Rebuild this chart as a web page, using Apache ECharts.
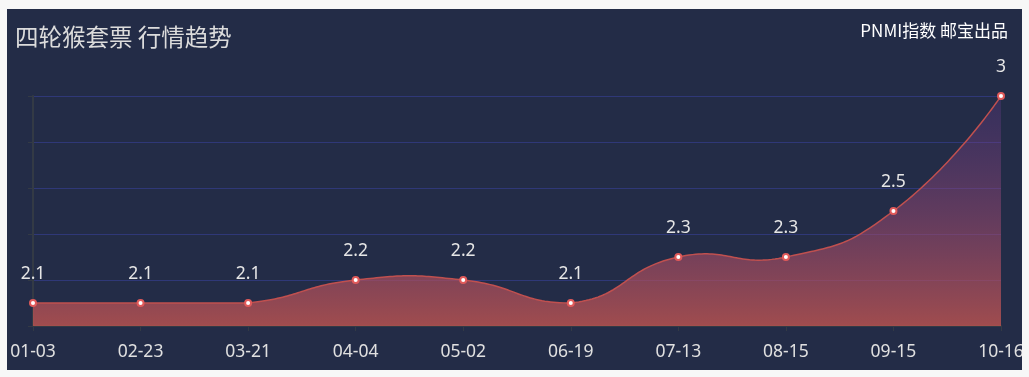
<!DOCTYPE html>
<html>
<head>
<meta charset="utf-8">
<script src="https://cdn.jsdelivr.net/npm/echarts@6/dist/echarts.min.js"></script>
<style>
html,body{margin:0;padding:0;background:#f7f7f7;}
#chart{position:absolute;left:7px;top:9px;width:1015px;height:361px;background:#232c47;overflow:hidden;}
</style>
</head>
<body>
<div id="chart"></div>
<script>
const titleText = '四轮猴套票 行情趋势';
const creditText = 'PNMI指数 邮宝出品';
const categories = ['01-03','02-23','03-21','04-04','05-02','06-19','07-13','08-15','09-15','10-16'];
const values = [2.1, 2.1, 2.1, 2.2, 2.2, 2.1, 2.3, 2.3, 2.5, 3];
const yMin = 2, yMax = 3, yStep = 0.2;

// classic (overshooting) bezier smoothing, applied to pixel points from the axes
function smoothCurve(pts, smooth, steps) {
  let minX = Infinity, minY = Infinity, maxX = -Infinity, maxY = -Infinity;
  pts.forEach(p => { minX = Math.min(minX, p[0]); maxX = Math.max(maxX, p[0]); minY = Math.min(minY, p[1]); maxY = Math.max(maxY, p[1]); });
  const clamp = c => [Math.min(Math.max(c[0], minX), maxX), Math.min(Math.max(c[1], minY), maxY)];
  const out = [pts[0].slice()];
  let cp0 = pts[0].slice();
  for (let k = 1; k < pts.length; k++) {
    const p = pts[k], prev = pts[k - 1], next = pts[k + 1];
    let cp1, ratio = 0.5, v = [0, 0];
    if (!next) { cp1 = p.slice(); }
    else {
      v = [next[0] - prev[0], next[1] - prev[1]];
      const lp = Math.hypot(p[0] - prev[0], p[1] - prev[1]);
      const ln = Math.hypot(p[0] - next[0], p[1] - next[1]);
      ratio = ln / (ln + lp);
      cp1 = [p[0] - v[0] * smooth * (1 - ratio), p[1] - v[1] * smooth * (1 - ratio)];
    }
    const a = clamp(cp0), b = clamp(cp1), s = prev;
    for (let t = 1; t <= steps; t++) {
      const u = t / steps, m = 1 - u;
      out.push([
        m*m*m*s[0] + 3*m*m*u*a[0] + 3*m*u*u*b[0] + u*u*u*p[0],
        m*m*m*s[1] + 3*m*m*u*a[1] + 3*m*u*u*b[1] + u*u*u*p[1]
      ]);
    }
    cp0 = [p[0] + v[0] * smooth * ratio, p[1] + v[1] * smooth * ratio];
  }
  return out;
}

const chart = echarts.init(document.getElementById('chart'));
chart.setOption({
  backgroundColor: '#232c47',
  animation: false,
  title: [
    {text: titleText, left: 3, top: 11, textStyle: {color: '#dcdcdc', fontSize: 23.5, fontWeight: 'normal', fontFamily: '"Noto Sans CJK SC", sans-serif'}},
    {text: creditText, right: 9, top: 8, textStyle: {color: '#ffffff', fontSize: 17, fontWeight: 'normal', fontFamily: '"Noto Sans CJK SC", sans-serif'}}
  ],
  grid: {left: 26, right: 21, top: 87, bottom: 44, outerBoundsMode: 'none', containLabel: false},
  xAxis: {
    type: 'category',
    data: categories,
    boundaryGap: false,
    axisLine: {lineStyle: {color: '#333a45', width: 2}},
    axisTick: {show: true, alignWithLabel: true, lineStyle: {color: '#333a45'}},
    axisLabel: {color: '#e0e0e0', fontSize: 17.5, margin: 17, fontFamily: '"Noto Sans", sans-serif'},
    splitLine: {show: false}
  },
  yAxis: {
    type: 'value',
    min: yMin, max: yMax, interval: yStep,
    axisLine: {show: true, lineStyle: {color: '#333a45', width: 2}},
    axisTick: {show: true, lineStyle: {color: '#333a45'}},
    axisLabel: {show: false},
    splitLine: {lineStyle: {color: '#2f3878', width: 1}}
  },
  series: [
    {
      type: 'custom',
      data: values,
      z: 2,
      silent: true,
      renderItem: function (params, api) {
        if (params.dataIndex !== 0) return null;
        const pts = values.map((v, i) => api.coord([i, v]));
        const curve = smoothCurve(pts, 0.5, 40);
        const baseY = api.coord([0, yMin])[1];
        const area = curve.concat([[curve[curve.length - 1][0], baseY], [curve[0][0], baseY]]);
        return {
          type: 'group',
          children: [
            {type: 'polygon', shape: {points: area}, style: {
              fill: new echarts.graphic.LinearGradient(0, 0, 0, 1, [
                {offset: 0, color: 'rgba(110,60,150,0.25)'},
                {offset: 1, color: 'rgba(195,85,80,0.78)'}
              ]), stroke: null}},
            {type: 'polyline', shape: {points: curve}, style: {stroke: '#c0504f', lineWidth: 1.5, fill: null}}
          ]
        };
      }
    },
    {
      type: 'line',
      data: values,
      z: 3,
      symbol: 'emptyCircle',
      symbolSize: 6,
      itemStyle: {color: '#e05a5a', borderColor: '#e05a5a', borderWidth: 1.5},
      lineStyle: {opacity: 0, width: 0},
      label: {show: true, position: 'top', distance: 16, color: '#e6e6e6', fontSize: 17.5, fontFamily: '"Noto Sans", sans-serif'}
    }
  ]
});
</script>
</body>
</html>
